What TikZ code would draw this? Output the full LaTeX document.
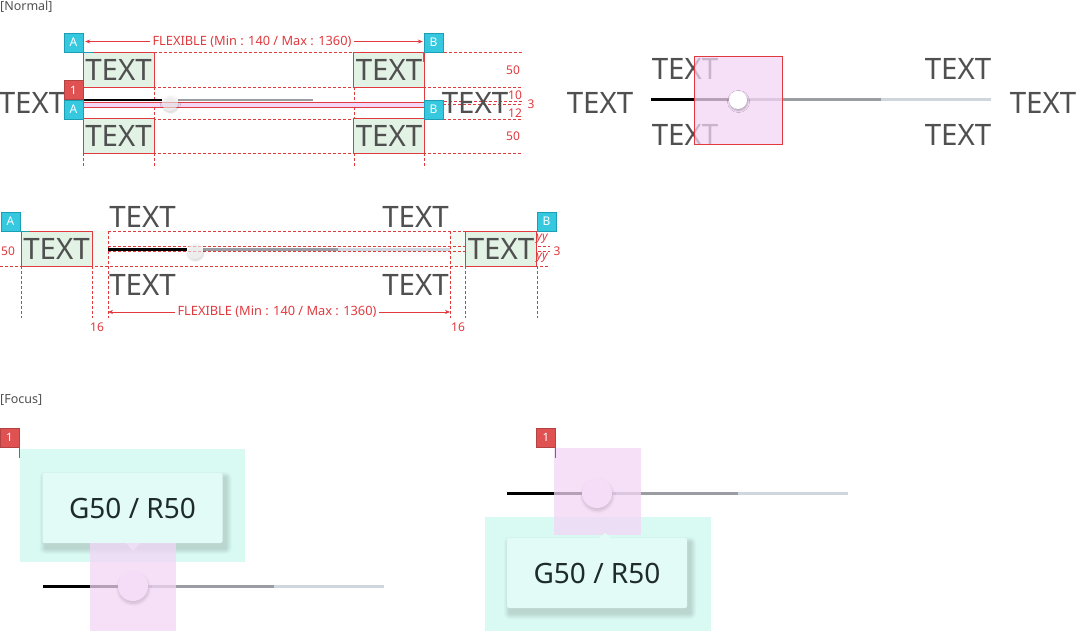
\documentclass[tikz,border=0pt]{standalone}
\usepackage{fontspec}
\setmainfont{Noto Sans}
\usetikzlibrary{arrows.meta,shadows.blur}
\definecolor{redl}{HTML}{E0393E}
\definecolor{redb}{HTML}{E05252}
\definecolor{cyanb}{HTML}{35C8DF}
\definecolor{cyand}{HTML}{1C9FB5}
\definecolor{greenf}{HTML}{E2F3E5}
\definecolor{greenp}{HTML}{F3FBF4}
\definecolor{txtg}{HTML}{505050}
\definecolor{pinkf}{HTML}{F3D6F6}
\definecolor{aquaf}{HTML}{D9FAF3}
\definecolor{tipf}{HTML}{E3FBF6}
\definecolor{tipt}{HTML}{1E2B2B}
\definecolor{trackd}{HTML}{9A9DA2}
\definecolor{trackl}{HTML}{D0D6DE}
\begin{document}
\begin{tikzpicture}[x=1pt,y=-1pt,
  big/.style={text=txtg,font=\fontsize{29.5}{29.5}\selectfont,inner sep=0},
  small/.style={text=redl,font=\fontsize{12}{12}\selectfont,inner sep=0},
  flex/.style={small,font=\fontsize{12.8}{12.8}\selectfont,inner xsep=2pt},
  head/.style={text=txtg,font=\fontsize{12.5}{12.5}\selectfont,inner sep=0,anchor=west},
  badgeA/.style={fill=cyanb,draw=cyand,text=white,minimum size=19pt,inner sep=0,font=\fontsize{12}{12}\selectfont},
  badge1/.style={fill=redb,draw=redb!80!black,text=white,minimum size=19pt,inner sep=0,font=\bfseries\fontsize{11.5}{11.5}\selectfont},
  gbox/.style={big,fill=greenf,draw=redl,line width=0.7pt,minimum width=71pt,minimum height=35pt},
  guide/.style={draw=redl,line width=0.6pt,dash pattern=on 3pt off 2pt},
  edge/.style={draw=redl,line width=0.7pt},
  dim/.style={draw=redl,line width=0.7pt,-{Stealth[length=5pt,width=4pt]}},
  knob/.style={circle,fill=white,inner sep=0,blur shadow={shadow blur steps=6,shadow xshift=0.5pt,shadow yshift=-1.5pt,shadow opacity=30,shadow blur radius=2pt}},
  fknob/.style={knob,fill=white!75!pinkf,minimum size=30pt,blur shadow={shadow blur steps=8,shadow xshift=0.5pt,shadow yshift=-2.5pt,shadow opacity=35,shadow blur radius=3pt}},
  tip/.style={fill=tipf,rounded corners=2pt,text=tipt,font=\fontsize{28}{28}\selectfont,minimum width=180pt,minimum height=70pt},
  soft/.style={fill=black,opacity=0.025},
  tail/.style={fill=tipf},
  area/.style={fill=aquaf},
  hover/.style={fill=pinkf,fill opacity=0.75},
  trk/.style={line width=#1},
]
\useasboundingbox (0,0) rectangle (1076,631);

% [Normal] top left
\node[head] (hn) at (0,6.5) {[Normal]};
\draw[guide] (154,52) -- (354,52) (424,52) -- (523,52);
\draw[guide] (83,87) -- (523,87) (83,119) -- (523,119) (83,153) -- (523,153);
\draw[guide] (424,101) -- (523,101) (83,104.5) -- (523,104.5);
\draw[guide] (154,87) -- (154,119) (354,87) -- (354,119);
\draw[guide] (83,153) -- (83,168) (154,153) -- (154,168) (354,153) -- (354,168) (424,153) -- (424,168);
\draw[edge] (83,52) -- (83,153) (424,52) -- (424,153);
\fill[pinkf] (83,102.5) rectangle (424,107);
\draw[edge] (83,102.5) -- (424,102.5) (83,107) -- (424,107);
\draw[trk=2pt] (83,100.5) -- (162,100.5);
\draw[trk=2pt,trackd] (178,100.5) -- (313,100.5);
\node[knob,minimum size=16pt,fill opacity=0.6] (k0) at (170,103) {};
\node[gbox] (t1) at (118.5,69.5) {TEXT};
\node[gbox] (t2) at (389,69.5) {TEXT};
\node[gbox] (t3) at (118.5,136) {TEXT};
\node[gbox] (t4) at (389,136) {TEXT};
\node[big] (lt) at (32,103) {TEXT};
\node[big] (rt) at (475,103) {TEXT};
\node[badgeA] (a1) at (73.5,42.5) {A};
\node[badgeA] (b1) at (433.5,42.5) {B};
\node[badge1] (n1) at (73.5,90) {1};
\node[badgeA] (a2) at (73.5,109.5) {A};
\node[badgeA] (b2) at (433.5,109.5) {B};
\draw[cyand,line width=0.8pt] (a1.south east) -- ++(10,0) (b1.south west) -- ++(0,10);
\node[flex] (fx1) at (252,41.5) {FLEXIBLE (Min : 140 / Max : 1360)};
\draw[dim] (fx1.west) -- ([xshift=2pt]a1.east |- fx1.west);
\draw[dim] (fx1.east) -- ([xshift=-1pt]b1.west |- fx1.east);
\node[small] (s1) at (513,70) {50};
\node[small] (s2) at (515,95) {10};
\node[small] (s3) at (531,104) {3};
\node[small] (s4) at (515,113) {12};
\node[small] (s5) at (513,136) {50};

% [Normal] top right
\draw[trk=3pt] (651,100) -- (737,100);
\draw[trk=3pt,trackd] (737,100) -- (881,100);
\draw[trk=3pt,trackl] (881,100) -- (991,100);
\node[big] (r0) at (600,103) {TEXT};
\node[big] (r1) at (685,69) {TEXT};
\node[big] (r2) at (685,135) {TEXT};
\node[big] (r3) at (958,69) {TEXT};
\node[big] (r4) at (958,135) {TEXT};
\node[big] (r5) at (1043,103) {TEXT};
\draw[edge,hover] (694,56) rectangle (782,144);
\node[knob,minimum size=18pt] (k1) at (738,100) {};

% [Normal] inline
\fill[greenp] (92,231) rectangle (108,266) (450,231) rectangle (465,266);
\draw[guide] (108,231) -- (465,231) (0,266) -- (550,266);
\draw[guide] (21,266) -- (21,318) (92,266) -- (92,318) (108,231) -- (108,318);
\draw[guide] (450,231) -- (450,318) (465,266) -- (465,318) (537,266) -- (537,318);
\draw[guide] (108,246.5) -- (550,246.5) (108,251.5) -- (550,251.5);
\draw[trk=3pt] (108,249) -- (187,249);
\draw[trk=3pt,trackd] (203,249) -- (338,249);
\draw[trk=3pt,trackl] (338,249) -- (450,249);
\node[knob,minimum size=16pt,fill opacity=0.6] (k2) at (195,251) {};
\node[gbox] (m1) at (56.5,248.5) {TEXT};
\node[gbox] (m2) at (501,248.5) {TEXT};
\node[big] (m3) at (142.5,217) {TEXT};
\node[big] (m4) at (142.5,285) {TEXT};
\node[big] (m5) at (415.5,217) {TEXT};
\node[big] (m6) at (415.5,285) {TEXT};
\node[badgeA] (a3) at (10.5,221.5) {A};
\node[badgeA] (b3) at (546.5,221.5) {B};
\draw[cyand,line width=0.8pt] (a3.south east) -- ++(10,0);
\node[small] (s6) at (8,251) {50};
\node[small] (s7) at (557,251) {3};
\node[small,font=\itshape\fontsize{12}{12}\selectfont] (s8) at (542,239) {yy};
\node[small,font=\itshape\fontsize{12}{12}\selectfont] (s9) at (542,258) {yy};
\coordinate (l2) at (108,312);
\coordinate (r2) at (450,312);
\node[flex] (fx2) at (277,312) {FLEXIBLE (Min : 140 / Max : 1360)};
\draw[dim] (fx2.west) -- (l2);
\draw[dim] (fx2.east) -- (r2);
\node[small] (s10) at (97,327) {16};
\node[small] (s11) at (458,327) {16};

% [Focus] left
\node[head] (hf) at (0,400) {[Focus]};
\fill[area] (20,449) rectangle (245,562);
\foreach \g in {1,...,6}
  \fill[soft,rounded corners=\g pt] (45.5-\g,478-\g) rectangle (225.5+\g,548+\g);
\node[tip] (tp1) at (132.5,508) {G50 / R50};
\fill[tail] (126,543) -- (140,543) -- (133,551) -- cycle;
\draw[trk=3pt] (43,586) -- (118,586);
\draw[trk=3pt,trackd] (148,586) -- (274,586);
\draw[trk=3pt,trackl] (274,586) -- (384,586);
\node[fknob] (k3) at (133,586) {};
\fill[hover] (90,543) rectangle (176,631);
\node[badge1] (f1) at (9.5,437.5) {1};
\draw[edge] (f1.south east) -- ++(0,11);

% [Focus] right
\draw[trk=3pt] (507,493) -- (582,493);
\draw[trk=3pt,trackd] (612,493) -- (738,493);
\draw[trk=3pt,trackl] (738,493) -- (848,493);
\node[fknob] (k4) at (597,493) {};
\fill[area] (485,517) rectangle (711,631);
\fill[hover] (554,448) rectangle (641,535);
\foreach \g in {1,...,6}
  \fill[soft,rounded corners=\g pt] (510-\g,543-\g) rectangle (690+\g,613+\g);
\node[tip] (tp2) at (597,573) {G50 / R50};
\fill[tail] (599,538) -- (611,538) -- (605,533) -- cycle;
\node[badge1] (f2) at (546,437.5) {1};
\draw[edge] (f2.south east) -- ++(0,11);
\end{tikzpicture}
\end{document}
